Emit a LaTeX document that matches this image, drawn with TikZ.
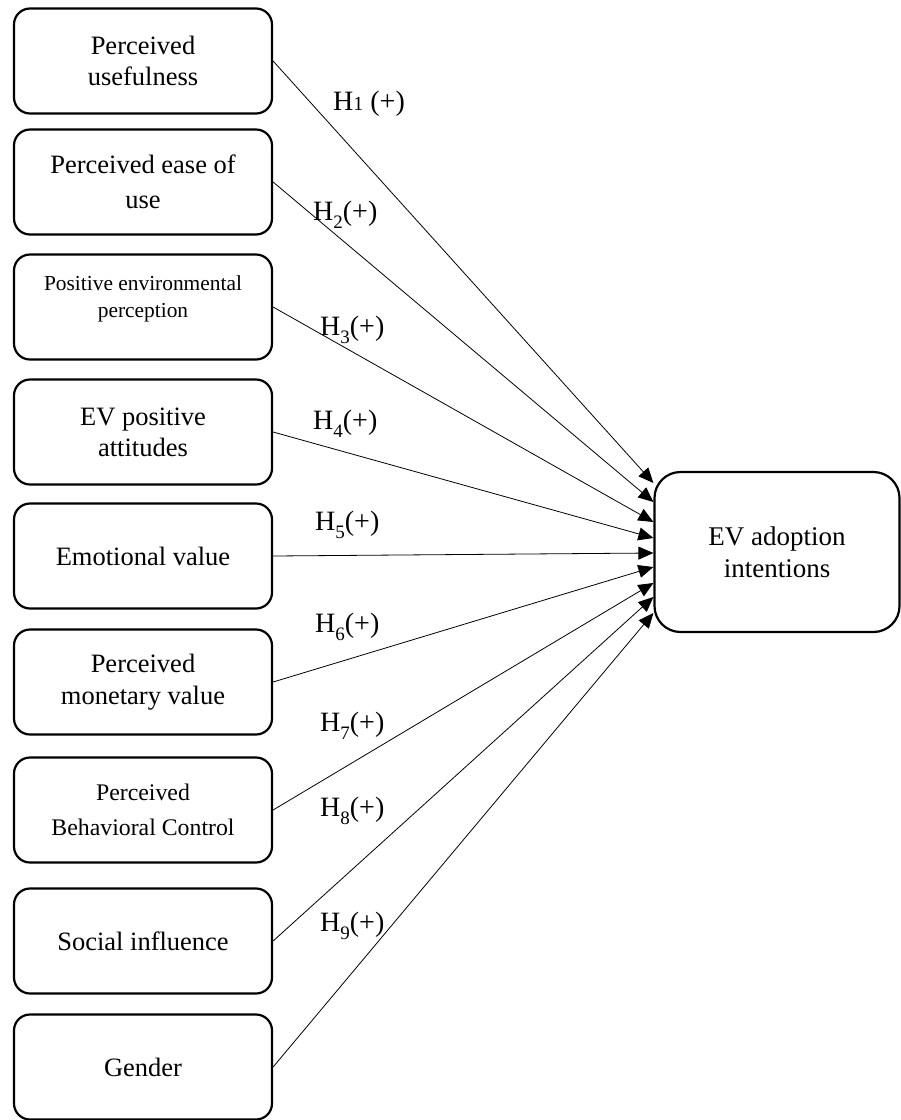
\documentclass[tikz,border=0pt]{standalone}
\usepackage{fontspec}
\setmainfont{Liberation Serif}
\usetikzlibrary{arrows.meta}
\newcommand{\hsub}[1]{\raisebox{-8pt}{\fontsize{19}{19}\selectfont #1}}
\begin{document}
\begin{tikzpicture}[x=1pt,y=-1pt,
  box/.style={draw,line width=2.2pt,rounded corners=16pt,minimum width=258pt,minimum height=105pt,align=center,font=\fontsize{26.5}{31}\selectfont,inner sep=0pt},
  bigbox/.style={draw,line width=2.2pt,rounded corners=26pt,minimum width=245pt,minimum height=160pt,align=center,font=\fontsize{27}{32}\selectfont,inner sep=0pt},
  conn/.style={line width=0.8pt,-{Triangle[length=15pt,width=13pt]}},
  hlab/.style={anchor=base west,inner sep=0pt,font=\fontsize{28}{30}\selectfont}]
\useasboundingbox (0,0) rectangle (901,1120);
\node[box] (b1) at (143,61) {Perceived\\usefulness};
\node[box,font=\fontsize{26.5}{35}\selectfont] (b2) at (143,182) {Perceived ease of\\use};
\node[box,font=\fontsize{21.4}{27}\selectfont] (b3) at (143,307) {Positive environmental\\perception\\[-7pt]\mbox{}};
\node[box] (b4) at (143,432) {EV positive\\attitudes};
\node[box] (b5) at (143,556) {Emotional value};
\node[box,font=\fontsize{26.5}{32}\selectfont] (b6) at (143,682) {Perceived\\monetary value};
\node[box,font=\fontsize{23.8}{35}\selectfont] (b7) at (143,810) {Perceived\\Behavioral Control};
\node[box] (b8) at (143,941) {Social influence};
\node[box] (b9) at (143,1067) {Gender};
\node[bigbox] (r) at (777,552) {EV adoption\\intentions};
\draw[conn] (b1.east) -- ([yshift=69pt]r.west);
\draw[conn] (b2.east) -- ([yshift=50pt]r.west);
\draw[conn] (b3.east) -- ([yshift=30pt]r.west);
\draw[conn] (b4.east) -- ([yshift=14pt]r.west);
\draw[conn] (b5.east) -- ([yshift=-1pt]r.west);
\draw[conn] (b6.east) -- ([yshift=-15pt]r.west);
\draw[conn] (b7.east) -- ([yshift=-31pt]r.west);
\draw[conn] (b8.east) -- ([yshift=-45pt]r.west);
\draw[conn] (b9.east) -- ([yshift=-61pt]r.west);
\node[hlab] (l1) at (333,110) {H{\fontsize{20}{20}\selectfont 1} (+)};
\node[hlab] (l2) at (313,220) {H\hsub{2}(+)};
\node[hlab] (l3) at (320,335) {H\hsub{3}(+)};
\node[hlab] (l4) at (313,429) {H\hsub{4}(+)};
\node[hlab] (l5) at (315,530) {H\hsub{5}(+)};
\node[hlab] (l6) at (315,632) {H\hsub{6}(+)};
\node[hlab] (l7) at (320,731) {H\hsub{7}(+)};
\node[hlab] (l8) at (320,816) {H\hsub{8}(+)};
\node[hlab] (l9) at (320,931) {H\hsub{9}(+)};
\end{tikzpicture}
\end{document}
